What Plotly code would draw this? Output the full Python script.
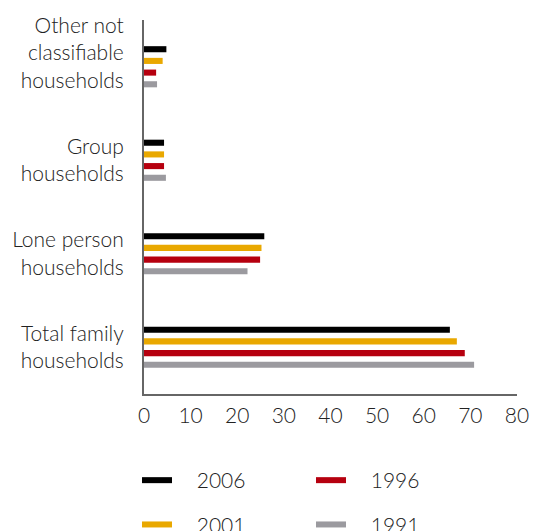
import plotly.graph_objects as go

categories = ["Other not<br>classifiable<br>households", "Group<br>households",
              "Lone person<br>households", "Total family<br>households"]
years = ["2006", "2001", "1996", "1991"]
values_2006 = [4.8, 4.3, 25.8, 65.6]
values_2001 = [4.0, 4.3, 25.2, 67.1]
values_1996 = [2.6, 4.3, 24.9, 68.8]
values_1991 = [2.8, 4.7, 22.2, 70.8]
series = [values_2006, values_2001, values_1996, values_1991]
colors = ["#000000", "#E9A800", "#B6000F", "#9B9A9F"]
x_ticks = [0, 10, 20, 30, 40, 50, 60, 70, 80]

# tick text: the three-line label sits slightly higher in the original
tick_text = [c + ("<br>\u00a0" if c.count("<br>") == 2 else "") for c in categories]

FONT = "Lato, Open Sans, sans-serif"
TXT = "#222222"
FS = 21

fig = go.Figure()
for name, vals, col in zip(years, series, colors):
    fig.add_trace(go.Bar(y=categories, x=vals, orientation="h", name=name,
                         marker=dict(color=col, line=dict(width=0)),
                         showlegend=False))

legend_map = {"2006": "legend", "2001": "legend", "1996": "legend2", "1991": "legend2"}
for name, col in zip(years, colors):
    fig.add_trace(go.Scatter(x=[None], y=[None], mode="lines",
                             name="\u00a0\u00a0\u00a0\u2009" + name,
                             line=dict(color=col, width=6), legend=legend_map[name],
                             legendgroup=name, showlegend=True))

fig.update_layout(
    width=534, height=531,
    margin=dict(l=144, r=17, t=20, b=137, autoexpand=False),
    paper_bgcolor="white", plot_bgcolor="white",
    barmode="group", bargap=0.5, bargroupgap=0.48,
    font=dict(family=FONT, size=FS, color=TXT, weight=300),
    xaxis=dict(range=[0, 80], tickvals=x_ticks, showgrid=False, zeroline=False,
               showline=True, linecolor="#666666", linewidth=1.5, ticks="",
               automargin=False, ticklabelstandoff=2,
               tickfont=dict(size=FS, color=TXT, weight=300)),
    yaxis=dict(categoryorder="array", categoryarray=categories, autorange="reversed",
               tickmode="array", tickvals=categories, ticktext=tick_text,
               showgrid=False, zeroline=False, showline=True, linecolor="#666666",
               linewidth=2, ticks="", automargin=False, ticklabelstandoff=14,
               tickfont=dict(size=FS, color=TXT, weight=300)),
    legend=dict(x=0.2566, y=0.1337, xref="container", yref="container",
                xanchor="left", yanchor="top", orientation="v",
                tracegroupgap=14, font=dict(size=FS, color=TXT, weight=300),
                bgcolor="rgba(0,0,0,0)"),
    legend2=dict(x=0.5824, y=0.1337, xref="container", yref="container",
                 xanchor="left", yanchor="top", orientation="v",
                 tracegroupgap=14, font=dict(size=FS, color=TXT, weight=300),
                 bgcolor="rgba(0,0,0,0)"),
)

fig.write_html("out.html")
